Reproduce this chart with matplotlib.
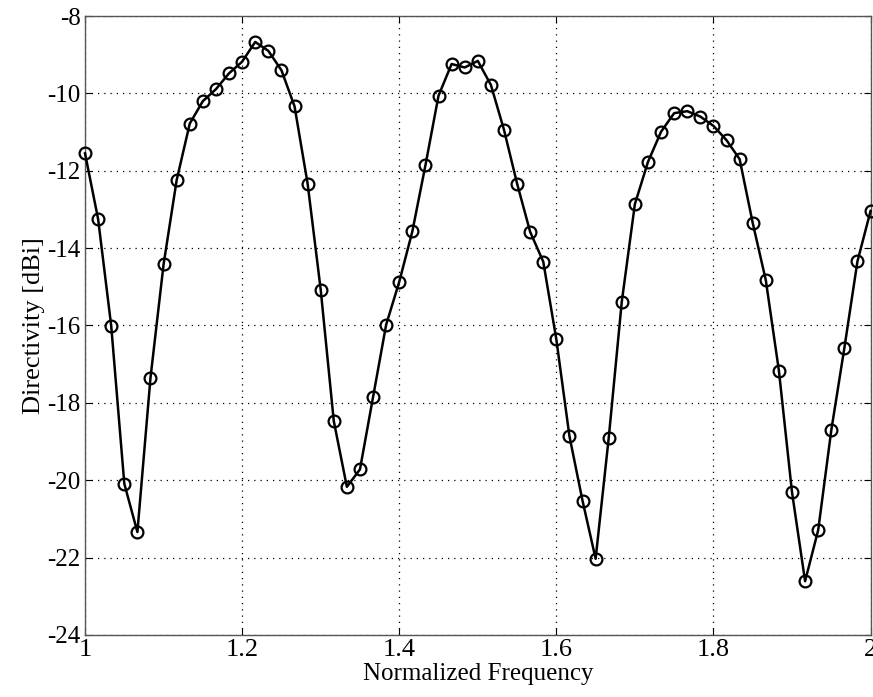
import numpy as np
import matplotlib
matplotlib.use("Agg")
import matplotlib.pyplot as plt

plt.rcParams["font.family"] = ["Liberation Serif", "DejaVu Serif"]
plt.rcParams["axes.unicode_minus"] = False

# Normalized frequency sweep 1.0 .. 2.0 in steps of 1/60
freq_start = 1.0
freq_stop = 2.0
n_points = 61

directivity_dbi = [
    -11.55, -13.25, -16.01, -20.09, -21.34, -17.35, -14.42, -12.24, -10.78, -10.20,
    -9.89, -9.48, -9.18, -8.67, -8.90, -9.40, -10.33, -12.33, -15.07, -18.47,
    -20.17, -19.72, -17.85, -15.98, -14.87, -13.57, -11.86, -10.06, -9.24, -9.33,
    -9.16, -9.78, -10.94, -12.33, -13.58, -14.35, -16.36, -18.86, -20.53, -22.03,
    -18.91, -15.38, -12.86, -11.77, -10.99, -10.51, -10.46, -10.60, -10.84, -11.21,
    -11.70, -13.35, -14.83, -17.17, -20.31, -22.61, -21.29, -18.71, -16.58, -14.34,
    -13.04,
]

x_ticks = [1, 1.2, 1.4, 1.6, 1.8, 2]
x_tick_labels = ["1", "1.2", "1.4", "1.6", "1.8", "2"]
y_ticks = [-24, -22, -20, -18, -16, -14, -12, -10, -8]

freq = np.linspace(freq_start, freq_stop, n_points)

fig = plt.figure(figsize=(8.73, 6.97), dpi=100)
ax = fig.add_axes([0.0974, 0.089, 0.8998, 0.888])

ax.plot(freq, directivity_dbi, color="black", linewidth=1.8,
        marker="o", markersize=8.5, markerfacecolor="none",
        markeredgecolor="black", markeredgewidth=1.6, clip_on=False, zorder=3)

ax.set_xlim(1, 2)
ax.set_ylim(-24, -8)
ax.set_xticks(x_ticks)
ax.set_xticklabels(x_tick_labels)
ax.set_yticks(y_ticks)
ax.set_yticklabels([str(v) for v in y_ticks])

ax.grid(True, linestyle=(0, (1, 4)), color="black", linewidth=0.9)
ax.tick_params(direction="in", length=5, width=0.8, top=True, right=True,
               colors="black")
ax.tick_params(axis="x", labelsize=19, pad=3)
ax.tick_params(axis="y", labelsize=18, pad=3)
for s in ax.spines.values():
    s.set_color("#555555")
    s.set_linewidth(1.0)

ax.set_xlabel("Normalized Frequency", fontsize=18, labelpad=1)
ax.set_ylabel("Directivity [dBi]", fontsize=19, labelpad=2)

fig.savefig("out.png", dpi=100)
